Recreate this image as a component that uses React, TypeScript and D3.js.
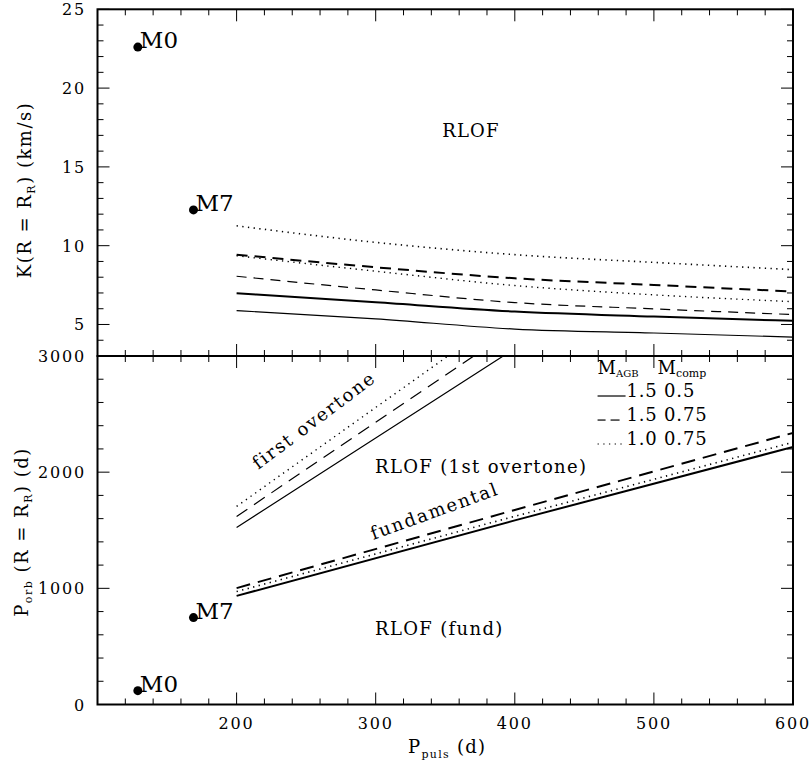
import React from 'react';
import * as d3 from 'd3';

// ---------- data ----------
const pulsK = [200, 300, 400, 500, 600];
const kFund_15_05 = [6.98, 6.41, 5.82, 5.5, 5.23];
const kOver_15_05 = [5.88, 5.36, 4.71, 4.46, 4.2];
const kFund_15_075 = [9.43, 8.63, 7.93, 7.51, 7.09];
const kOver_15_075 = [8.06, 7.19, 6.39, 5.99, 5.63];
const kFund_10_075 = [11.26, 10.21, 9.43, 8.94, 8.48];
const kOver_10_075 = [9.36, 8.38, 7.47, 6.88, 6.45];

const pulsFund = [200, 400, 600];
const porbFund_15_05 = [935, 1585, 2217];
const porbFund_15_075 = [1002, 1675, 2338];
const porbFund_10_075 = [972, 1620, 2257];

const pulsOver = [200, 300, 400];
const porbOver_15_05 = [1524, 2294, 3064];
const porbOver_15_075 = [1619, 2430, 3239];
const porbOver_10_075 = [1705, 2557, 3409];

const starNames = ['M0', 'M7'];
const starPuls = [129, 169];
const starK = [22.6, 12.27];
const starPorb = [119, 748];

const xTickLabels = [200, 300, 400, 500, 600];
const kTickLabels = [5, 10, 15, 20, 25];
const porbTickLabels = [0, 1000, 2000, 3000];

const legendMagb = ['1.5', '1.5', '1.0'];
const legendMcomp = ['0.5', '0.75', '0.75'];

// ---------- layout ----------
const W = 812;
const H = 767;
const L = 97.5;
const R = 793;
const T = 9.3;
const MID = 356;
const B = 704.5;
const FONT = 'DejaVu Serif';

const x = d3.scaleLinear().domain([100, 600]).range([L, R]);
const yK = d3.scaleLinear().domain([3, 25]).range([MID, T]);
const yP = d3.scaleLinear().domain([0, 3000]).range([B, MID]);

const styles = [
  { dash: undefined as string | undefined },
  { dash: '11 7' },
  { dash: '1.3 4.4' },
];

function Ticks({ y0, y1, yScale, minorStep, majorStep }: any) {
  const out: any[] = [];
  const xs = d3.range(100, 600.01, 20);
  xs.forEach((v, i) => {
    const major = Math.abs(v % 100) < 1e-6;
    const len = major ? 12 : 6;
    const px = x(v);
    out.push(<line key={'xb' + i} x1={px} x2={px} y1={y1} y2={y1 - len} stroke="#000" strokeWidth={1} />);
    out.push(<line key={'xt' + i} x1={px} x2={px} y1={y0} y2={y0 + len} stroke="#000" strokeWidth={1} />);
  });
  const [d0, d1] = yScale.domain();
  const start = Math.ceil(d0 / minorStep) * minorStep;
  d3.range(start, d1 + 1e-6, minorStep).forEach((v: number, i: number) => {
    const major = Math.abs(v % majorStep) < 1e-6;
    const len = major ? 12 : 6;
    const py = yScale(v);
    out.push(<line key={'yl' + i} x1={L} x2={L + len} y1={py} y2={py} stroke="#000" strokeWidth={1} />);
    out.push(<line key={'yr' + i} x1={R} x2={R - len} y1={py} y2={py} stroke="#000" strokeWidth={1} />);
  });
  return <g>{out}</g>;
}

export default function App() {
  const kLine = d3
    .line<[number, number]>()
    .x((d) => x(d[0]))
    .y((d) => yK(d[1]))
    .curve(d3.curveMonotoneX);
  const pLine = d3
    .line<[number, number]>()
    .x((d) => x(d[0]))
    .y((d) => yP(d[1]));

  const zip = (a: number[], b: number[]) => a.map((v, i) => [v, b[i]] as [number, number]);

  const kFund = [kFund_15_05, kFund_15_075, kFund_10_075];
  const kOver = [kOver_15_05, kOver_15_075, kOver_10_075];
  const pFund = [porbFund_15_05, porbFund_15_075, porbFund_10_075];
  const pOver = [porbOver_15_05, porbOver_15_075, porbOver_10_075];

  const txt = { fontFamily: FONT, fill: '#000' } as const;

  const legX = x(459.5);
  const legRowY = [yP(2647), yP(2440), yP(2234)];
  const legHeadY = yP(2845);

  return (
    <svg width={W} height={H} style={{ position: 'absolute', left: 0, top: 0, background: '#fff' }}>
      <defs>
        <clipPath id="clipTop">
          <rect x={L} y={T} width={R - L} height={MID - T} />
        </clipPath>
        <clipPath id="clipBot">
          <rect x={L} y={MID} width={R - L} height={B - MID} />
        </clipPath>
      </defs>
      <rect x={0} y={0} width={W} height={H} fill="#fff" />

      {/* ticks */}
      <Ticks y0={T} y1={MID} yScale={yK} minorStep={1} majorStep={5} />
      <Ticks y0={MID} y1={B} yScale={yP} minorStep={200} majorStep={1000} />

      {/* frames */}
      <rect x={L} y={T} width={R - L} height={MID - T} fill="none" stroke="#000" strokeWidth={2} />
      <rect x={L} y={MID} width={R - L} height={B - MID} fill="none" stroke="#000" strokeWidth={2} />

      {/* top panel curves */}
      <g clipPath="url(#clipTop)" fill="none" stroke="#000">
        {kFund.map((arr, i) => (
          <path key={'kf' + i} d={kLine(zip(pulsK, arr)) || ''} strokeWidth={i === 2 ? 1.6 : 2} strokeDasharray={styles[i].dash} />
        ))}
        {kOver.map((arr, i) => (
          <path key={'ko' + i} d={kLine(zip(pulsK, arr)) || ''} strokeWidth={i === 2 ? 1.4 : 1.2} strokeDasharray={i === 1 ? '10 7' : styles[i].dash} />
        ))}
      </g>

      {/* bottom panel lines */}
      <g clipPath="url(#clipBot)" fill="none" stroke="#000">
        {pFund.map((arr, i) => (
          <path key={'pf' + i} d={pLine(zip(pulsFund, arr)) || ''} strokeWidth={i === 2 ? 1.6 : 2} strokeDasharray={i === 1 ? '14 8' : styles[i].dash} />
        ))}
        {pOver.map((arr, i) => (
          <path key={'po' + i} d={pLine(zip(pulsOver, arr)) || ''} strokeWidth={i === 2 ? 1.4 : 1.2} strokeDasharray={i === 1 ? '13 8' : styles[i].dash} />
        ))}
      </g>

      {/* stars */}
      {starNames.map((n, i) => (
        <g key={'st' + i}>
          <circle cx={x(starPuls[i])} cy={yK(starK[i])} r={4.5} fill="#000" />
          <text x={x(starPuls[i]) + 2} y={yK(starK[i]) + 1} fontSize={23} {...txt}>{n}</text>
          <circle cx={x(starPuls[i])} cy={yP(starPorb[i])} r={4.5} fill="#000" />
          <text x={x(starPuls[i]) + 2} y={yP(starPorb[i]) + 1} fontSize={23} {...txt}>{n}</text>
        </g>
      ))}

      {/* tick labels */}
      {xTickLabels.map((v) => (
        <text key={'xl' + v} x={x(v)} y={728.5} fontSize={16} letterSpacing={1.8} textAnchor="middle" {...txt}>{v}</text>
      ))}
      {kTickLabels.map((v) => (
        <text key={'kl' + v} x={86} y={yK(v) + 6} fontSize={16} letterSpacing={1.8} textAnchor="end" {...txt}>{v}</text>
      ))}
      {porbTickLabels.map((v) => (
        <text key={'pl' + v} x={86} y={yP(v) + 6} fontSize={16} letterSpacing={1.8} textAnchor="end" {...txt}>{v}</text>
      ))}

      {/* axis titles */}
      <text x={408} y={753} fontSize={18} letterSpacing={1.3} {...txt}>
        P<tspan fontSize={11} dy={5}>puls</tspan>
        <tspan dy={-5}>{'  (d)'}</tspan>
      </text>
      <text transform={`translate(31,190) rotate(-90)`} fontSize={18} letterSpacing={1.5} textAnchor="middle" {...txt}>
        K(R = R<tspan fontSize={11} dy={4}>R</tspan>
        <tspan dy={-4}>)  (km/s)</tspan>
      </text>
      <text transform={`translate(28,532) rotate(-90)`} fontSize={18} letterSpacing={1.5} textAnchor="middle" {...txt}>
        P<tspan fontSize={11} dy={4}>orb</tspan>
        <tspan dy={-4}>{'  (R = R'}</tspan>
        <tspan fontSize={11} dy={4}>R</tspan>
        <tspan dy={-4}>)  (d)</tspan>
      </text>

      {/* annotations */}
      <text x={x(368.5)} y={yK(16.9)} fontSize={18} letterSpacing={1.2} textAnchor="middle" {...txt}>RLOF</text>
      <text x={x(299.5)} y={yP(1993)} fontSize={18} letterSpacing={1.35} {...txt}>RLOF (1st overtone)</text>
      <text x={x(299.5)} y={yP(598)} fontSize={18} letterSpacing={1.35} {...txt}>RLOF (fund)</text>
      <text transform={`translate(${x(215.6)},${yP(2019)}) rotate(-37)`} fontSize={18} letterSpacing={1.8} {...txt}>first overtone</text>
      <text transform={`translate(${x(298.3)},${yP(1416)}) rotate(-20)`} fontSize={18} letterSpacing={1.8} {...txt}>fundamental</text>

      {/* legend */}
      <text x={legX} y={legHeadY} fontSize={18} {...txt}>
        M<tspan fontSize={10} dy={3}>AGB</tspan>
      </text>
      <text x={legX + 60} y={legHeadY} fontSize={18} {...txt}>
        M<tspan fontSize={11} dy={3}>comp</tspan>
      </text>
      {legendMagb.map((m, i) => (
        <g key={'lg' + i}>
          {i === 1 ? (
            <g stroke="#000" strokeWidth={1.2}>
              <line x1={legX} x2={legX + 8} y1={legRowY[i] - 1} y2={legRowY[i] - 1} />
              <line x1={legX + 13} x2={legX + 22} y1={legRowY[i] - 1} y2={legRowY[i] - 1} />
            </g>
          ) : (
            <line x1={legX} x2={legX + 28} y1={legRowY[i] - 1} y2={legRowY[i] - 1} stroke="#000" strokeWidth={1.2} strokeDasharray={styles[i].dash} />
          )}
          <text x={legX + 29} y={legRowY[i]} fontSize={18} letterSpacing={0.8} {...txt}>
            {m + ' ' + legendMcomp[i]}
          </text>
        </g>
      ))}
    </svg>
  );
}
